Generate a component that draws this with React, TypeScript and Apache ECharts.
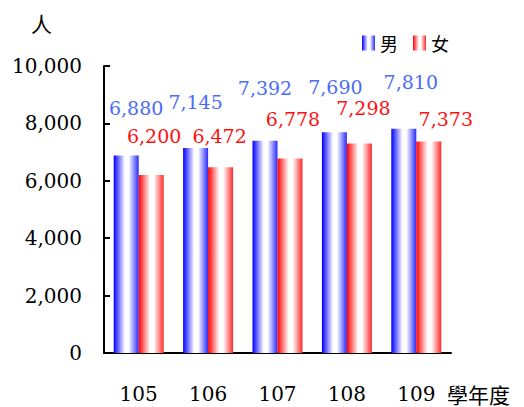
import React, { useEffect, useRef } from "react";
import * as echarts from "echarts";

const categories = ["105", "106", "107", "108", "109"];
const maleValues = [6880, 7145, 7392, 7690, 7810];
const femaleValues = [6200, 6472, 6778, 7298, 7373];
const seriesNames = ["男", "女"];

// label nudges (styling only)
const maleLabelOffsets = [[10, -38], [0, -36], [0, -43], [1, -36], [7, -37]];
const femaleLabelOffsets = [[3, -30], [-1, -22], [3, -30], [4, -26], [17, -13]];

const NUM_FONT = "DejaVu Serif";
const CJK_FONT = "Noto Sans CJK TC";

const grad = (c: string, edge: string) =>
  new echarts.graphic.LinearGradient(0, 0, 1, 0, [
    { offset: 0, color: c },
    { offset: 0.45, color: "#ffffff" },
    { offset: 0.6, color: "#ffffff" },
    { offset: 1, color: edge },
  ]);

const fmt = (v: number) => v.toLocaleString("en-US");

export default function App() {
  const ref = useRef<HTMLDivElement>(null);
  useEffect(() => {
    if (!ref.current) return;
    const chart = echarts.init(ref.current, undefined, { renderer: "svg" });
    const mkData = (vals: number[], offs: number[][]) =>
      vals.map((v, i) => ({ value: v, label: { offset: offs[i] } }));
    chart.setOption({
      animation: false,
      textStyle: { fontFamily: NUM_FONT },
      legend: {
        left: 357,
        top: 29,
        itemWidth: 13,
        itemHeight: 15,
        itemGap: 15,
        icon: "rect",
        textStyle: { fontFamily: CJK_FONT, fontSize: 18, color: "#000" },
        data: seriesNames,
      },
      grid: { left: 104, right: 73, top: 66, bottom: 54, outerBoundsMode: "none" },
      xAxis: {
        type: "category",
        data: categories,
        name: "學年度",
        nameLocation: "end",
        nameGap: -4,
        nameTextStyle: {
          fontFamily: CJK_FONT,
          fontSize: 21,
          lineHeight: 21,
          color: "#000",
          align: "left",
          verticalAlign: "top",
          padding: [30, 0, 0, 0],
        },
        axisLine: { lineStyle: { color: "#000", width: 2 } },
        axisTick: { inside: true, length: 6, lineStyle: { color: "#000", width: 2 } },
        axisLabel: { interval: 0, fontFamily: NUM_FONT, fontSize: 20, color: "#000", margin: 31 },
      },
      yAxis: {
        type: "value",
        min: 0,
        max: 10000,
        interval: 2000,
        name: "人",
        nameLocation: "end",
        nameGap: 33,
        nameTextStyle: {
          fontFamily: CJK_FONT,
          fontSize: 21,
          color: "#000",
          align: "right",
          verticalAlign: "bottom",
          padding: [0, 52, 0, 0],
        },
        axisLine: { show: true, lineStyle: { color: "#000", width: 2 } },
        axisTick: { show: true, inside: true, length: 6, lineStyle: { color: "#000", width: 2 } },
        splitLine: { show: false },
        axisLabel: {
          fontFamily: NUM_FONT,
          fontSize: 20,
          color: "#000",
          margin: 22,
          formatter: (v: number) => fmt(v),
        },
      },
      series: [
        {
          name: seriesNames[0],
          type: "bar",
          barWidth: 25,
          barGap: "0%",
          itemStyle: { color: grad("#0000ff", "#2a2aff") },
          label: {
            show: true,
            position: "top",
            distance: 0,
            fontFamily: NUM_FONT,
            fontSize: 19,
            color: "#4a6cf7",
            formatter: (p: any) => fmt(p.value),
          },
          data: mkData(maleValues, maleLabelOffsets),
        },
        {
          name: seriesNames[1],
          type: "bar",
          barWidth: 25,
          itemStyle: { color: grad("#ff0000", "#ff2a2a") },
          label: {
            show: true,
            position: "top",
            distance: 0,
            fontFamily: NUM_FONT,
            fontSize: 19,
            color: "#ff1010",
            formatter: (p: any) => fmt(p.value),
          },
          data: mkData(femaleValues, femaleLabelOffsets),
        },
      ],
    });
    return () => chart.dispose();
  }, []);
  return <div ref={ref} style={{ width: 524, height: 407, position: "absolute", left: 0, top: 0 }} />;
}
